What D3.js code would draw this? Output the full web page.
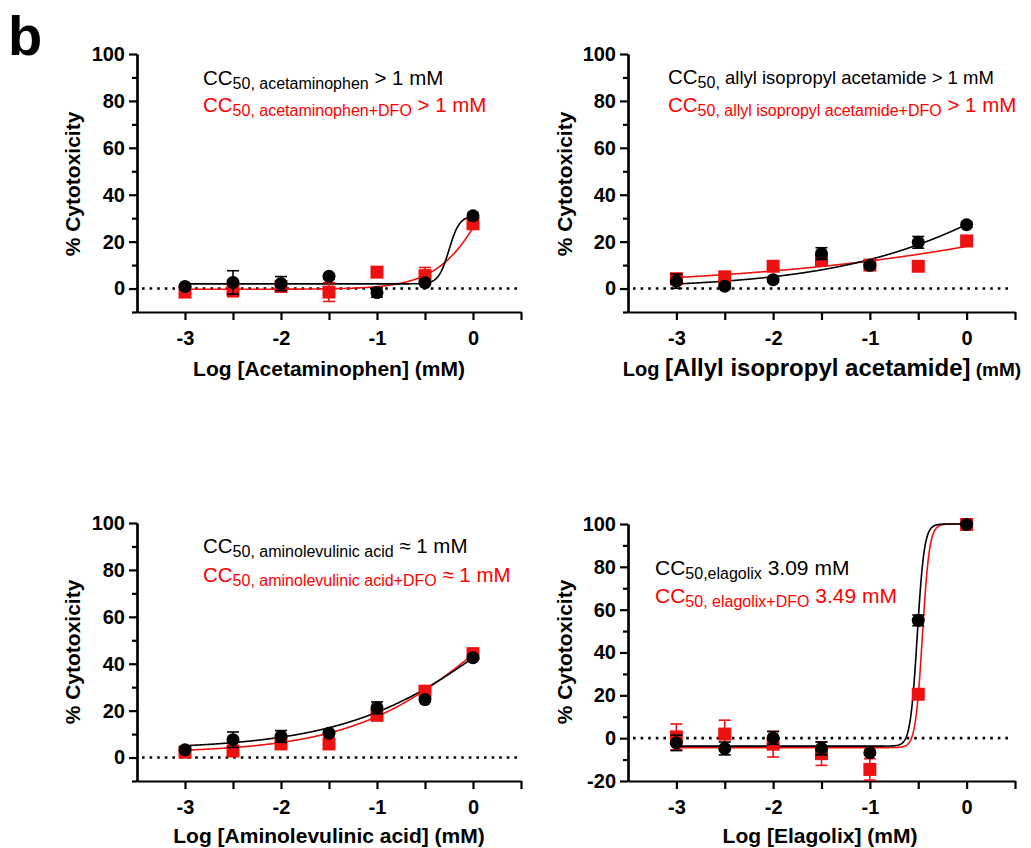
<!DOCTYPE html>
<html>
<head>
<meta charset="utf-8">
<script src="https://cdn.jsdelivr.net/npm/d3@7"></script>
<style>
  body { margin: 0; background: #fff; }
  svg { font-family: 'Liberation Sans', Arial, sans-serif; }
  .axis path, .axis line { stroke: #000; stroke-width: 2.2px; }
  .axis text { font-family: 'Liberation Sans', Arial, sans-serif; font-size: 20px; font-weight: bold; fill: #000; }
  .label { font-weight: bold; font-size: 21px; fill: #000; }
</style>
</head>
<body>
<script>
// doses (log mM), same for every panel
var doses = [-3, -2.5, -2, -1.5, -1, -0.5, 0];

// % cytotoxicity (mean, error)
var acetaminophen       = [0.9, 2.6, 2.1, 5.2, -1.7, 2.5, 31];
var acetaminophenErr    = [0.8, 5, 3, 1, 2, 1, 1];
var acetaminophenDfo    = [-1.5, -0.5, 0.9, -1.5, 7, 5.5, 27.6];
var acetaminophenDfoErr = [1, 3, 1, 4, 1, 3.5, 2];

var allyl       = [3.1, 1, 3.8, 14.9, 9.9, 19.7, 27.2];
var allylErr    = [3, 1, 1, 2.5, 1, 2.5, 1];
var allylDfo    = [4.2, 5, 9.5, 12, 10, 9.5, 20.3];
var allylDfoErr = [1, 1, 1, 1, 1, 1, 1];

var amino       = [3.3, 7.6, 9, 10.4, 21.2, 24.7, 42.6];
var aminoErr    = [1, 3.3, 2.5, 1, 2.5, 1, 1];
var aminoDfo    = [2.3, 2.8, 5.8, 5.8, 18, 28.3, 44.3];
var aminoDfoErr = [1, 1, 1, 1, 1, 2, 1];

var elagolix       = [-2.2, -4.8, 0.1, -4.8, -6.8, 55, 99.8];
var elagolixErr    = [3.6, 3, 3, 3, 1, 2.5, 0.5];
var elagolixDfo    = [0.6, 1.9, -2.8, -7.2, -14.6, 20.5, 99.8];
var elagolixDfoErr = [6, 6.5, 6, 5.5, 5, 1, 0.5];

// fitted curves: [bottom, top, logCC50, hill]
var acetaminophenFit    = [2, 31, -0.25, 8];
var acetaminophenDfoFit = [-0.3, 100, 0.3, 1.5];
var allylFit            = [0, 100, 1.0, 0.425];
var allylDfoFit         = [0, 100, 3.05, 0.216];
var aminoFit            = [3.5, 100, 0.312, 0.539];
var aminoDfoFit         = [2, 100, 0.208, 0.601];
var elagolixFit         = [-3.7, 100, -0.51, 12];
var elagolixDfoFit      = [-4.4, 100, -0.457, 12];

// tick labels
var xTickLabels = [-3, -2, -1, 0];
var yTicks      = [0, 20, 40, 60, 80, 100];
var yTicksNeg   = [-20, 0, 20, 40, 60, 80, 100];

// axis titles
var xTitles = [
  [['Log [Acetaminophen] (mM)', 21]],
  [['Log ', 20], ['[Allyl isopropyl acetamide]', 24], [' (mM)', 19]],
  [['Log [Aminolevulinic acid] (mM)', 21]],
  [['Log [Elagolix] (mM)', 21]]
];

// CC50 notes: pieces of [text, subscript?]
var notes = [
  [[['CC', 0], ['50, acetaminophen', 1], [' > 1 mM', 0]],
   [['CC', 0], ['50, acetaminophen+DFO', 1], [' > 1 mM', 0]]],
  [[['CC', 0], ['50,', 1], [' allyl isopropyl acetamide > 1 mM', 2]],
   [['CC', 0], ['50, allyl isopropyl acetamide+DFO', 1], [' > 1 mM', 0]]],
  [[['CC', 0], ['50, aminolevulinic acid', 1], [' \u2248 1 mM', 0]],
   [['CC', 0], ['50, aminolevulinic acid+DFO', 1], [' \u2248 1 mM', 0]]],
  [[['CC', 0], ['50,elagolix', 1], [' 3.09 mM', 0]],
   [['CC', 0], ['50, elagolix+DFO', 1], [' 3.49 mM', 0]]]
];

// panel layout
var panels = [
  { left: 137, right: 521, top: 54, bottom: 312, ymin: -10, yticks: yTicks,
    black: acetaminophen, blackErr: acetaminophenErr, red: acetaminophenDfo, redErr: acetaminophenDfoErr,
    blackFit: acetaminophenFit, redFit: acetaminophenDfoFit,
    title: xTitles[0], titleX: 329, titleY: 376, ylabX: 80, ylabY: 184,
    note: notes[0], noteX: 203, noteY: [85, 112], noteSize: [20.5, 16, 18.5] },
  { left: 628, right: 1015, top: 54, bottom: 312, ymin: -10, yticks: yTicks,
    black: allyl, blackErr: allylErr, red: allylDfo, redErr: allylDfoErr,
    blackFit: allylFit, redFit: allylDfoFit,
    title: xTitles[1], titleX: 822, titleY: 376, ylabX: 572, ylabY: 184,
    note: notes[1], noteX: 668, noteY: [84, 112], noteSize: [20.5, 16, 18.5] },
  { left: 137, right: 521, top: 523, bottom: 781, ymin: -10, yticks: yTicks,
    black: amino, blackErr: aminoErr, red: aminoDfo, redErr: aminoDfoErr,
    blackFit: aminoFit, redFit: aminoDfoFit,
    title: xTitles[2], titleX: 329, titleY: 843, ylabX: 80, ylabY: 652,
    note: notes[2], noteX: 203, noteY: [553, 582], noteSize: [20.5, 16, 18.5] },
  { left: 628, right: 1015, top: 524, bottom: 781, ymin: -20, yticks: yTicksNeg,
    black: elagolix, blackErr: elagolixErr, red: elagolixDfo, redErr: elagolixDfoErr,
    blackFit: elagolixFit, redFit: elagolixDfoFit,
    title: xTitles[3], titleX: 820, titleY: 843, ylabX: 572, ylabY: 652,
    note: notes[3], noteX: 655, noteY: [575, 603], noteSize: [21, 16, 18.5] }
];

var RED = '#ee1111';

var svg = d3.select('body')
  .append('svg')
  .attr('width', 1031)
  .attr('height', 848);

svg.append('text')
  .attr('x', 8)
  .attr('y', 55)
  .style('font-size', '56px')
  .style('font-weight', 'bold')
  .text('b');

panels.forEach(drawPanel);

// four parameter logistic
function logistic(p, x) {
  return p[0] + (p[1] - p[0]) / (1 + Math.pow(10, (p[2] - x) * p[3]));
}

function drawPanel(p) {
  var x = d3.scaleLinear().domain([-3.5, 0.5]).range([p.left, p.right]);
  var y = d3.scaleLinear().domain([p.ymin, 100]).range([p.bottom, p.top]);
  var g = svg.append('g');

  // minor y ticks
  var minor = d3.range(p.ymin, 101, 10).filter(function(v) { return p.yticks.indexOf(v) < 0; });
  g.append('g')
    .attr('class', 'axis')
    .attr('transform', 'translate(' + p.left + ',0)')
    .call(d3.axisLeft(y).tickValues(minor).tickSize(5).tickSizeOuter(0).tickFormat(''));

  g.append('g')
    .attr('class', 'axis')
    .attr('transform', 'translate(' + p.left + ',0)')
    .call(d3.axisLeft(y).tickValues(p.yticks).tickSize(8).tickSizeOuter(0).tickPadding(4)
      .tickFormat(function(d) { return String(d); }));

  g.append('g')
    .attr('class', 'axis')
    .attr('transform', 'translate(0,' + p.bottom + ')')
    .call(d3.axisBottom(x)
      .tickValues(d3.range(-3, 0.51, 0.5))
      .tickSize(8)
      .tickSizeOuter(0)
      .tickPadding(11)
      .tickFormat(function(d) { return xTickLabels.indexOf(d) >= 0 ? String(d) : ''; }));

  // dotted zero line
  g.append('line')
    .attr('x1', x(-3.5) + 5)
    .attr('x2', x(0.46))
    .attr('y1', y(0))
    .attr('y2', y(0))
    .attr('stroke', '#000')
    .attr('stroke-width', 2.6)
    .attr('stroke-dasharray', '2.6,5');

  // fitted curves
  var xs = d3.range(-3, 0.0001, 0.005);
  var line = d3.line()
    .x(function(d) { return x(d[0]); })
    .y(function(d) { return y(d[1]); });

  [[p.redFit, RED], [p.blackFit, '#000']].forEach(function(f) {
    g.append('path')
      .datum(xs.map(function(v) { return [v, logistic(f[0], v)]; }))
      .attr('fill', 'none')
      .attr('stroke', f[1])
      .attr('stroke-width', 1.6)
      .attr('d', line);
  });

  drawSeries(g, x, y, p.red, p.redErr, RED, 'square');
  drawSeries(g, x, y, p.black, p.blackErr, '#000', 'circle');

  // y title
  g.append('text')
    .attr('class', 'label')
    .attr('transform', 'translate(' + p.ylabX + ',' + p.ylabY + ') rotate(-90)')
    .attr('text-anchor', 'middle')
    .text('% Cytotoxicity');

  // x title
  var t = g.append('text')
    .attr('class', 'label')
    .attr('x', p.titleX)
    .attr('y', p.titleY)
    .attr('text-anchor', 'middle');
  p.title.forEach(function(part) {
    t.append('tspan').style('font-size', part[1] + 'px').text(part[0]);
  });

  // CC50 notes
  p.note.forEach(function(parts, i) {
    var n = g.append('text')
      .attr('x', p.noteX)
      .attr('y', p.noteY[i])
      .attr('fill', i === 0 ? '#000' : '#ff0000');
    var shifted = false;
    parts.forEach(function(part) {
      var s = n.append('tspan').text(part[0]);
      if (part[1] === 1) {
        s.style('font-size', p.noteSize[1] + 'px').attr('dy', 4);
        shifted = true;
      } else {
        s.style('font-size', (part[1] === 2 ? p.noteSize[2] : p.noteSize[0]) + 'px');
        if (shifted) { s.attr('dy', -4); shifted = false; }
      }
    });
  });
}

function drawSeries(g, x, y, values, errs, colour, shape) {
  var pts = doses.map(function(d, i) { return { x: d, y: values[i], e: errs[i] }; });

  var bars = g.append('g')
    .attr('stroke', colour)
    .attr('stroke-width', 1.6);

  bars.selectAll('line.v')
    .data(pts)
    .enter()
    .append('line')
      .attr('x1', function(d) { return x(d.x); })
      .attr('x2', function(d) { return x(d.x); })
      .attr('y1', function(d) { return y(d.y - d.e); })
      .attr('y2', function(d) { return y(d.y + d.e); });

  [-1, 1].forEach(function(sign) {
    bars.selectAll(null)
      .data(pts)
      .enter()
      .append('line')
        .attr('x1', function(d) { return x(d.x) - 6; })
        .attr('x2', function(d) { return x(d.x) + 6; })
        .attr('y1', function(d) { return y(d.y + sign * d.e); })
        .attr('y2', function(d) { return y(d.y + sign * d.e); });
  });

  if (shape === 'circle') {
    g.selectAll(null)
      .data(pts)
      .enter()
      .append('circle')
        .attr('cx', function(d) { return x(d.x); })
        .attr('cy', function(d) { return y(d.y); })
        .attr('r', 6.5)
        .attr('fill', colour);
  } else {
    g.selectAll(null)
      .data(pts)
      .enter()
      .append('rect')
        .attr('x', function(d) { return x(d.x) - 6.5; })
        .attr('y', function(d) { return y(d.y) - 6.5; })
        .attr('width', 13)
        .attr('height', 13)
        .attr('fill', colour);
  }
}
</script>
</body>
</html>
